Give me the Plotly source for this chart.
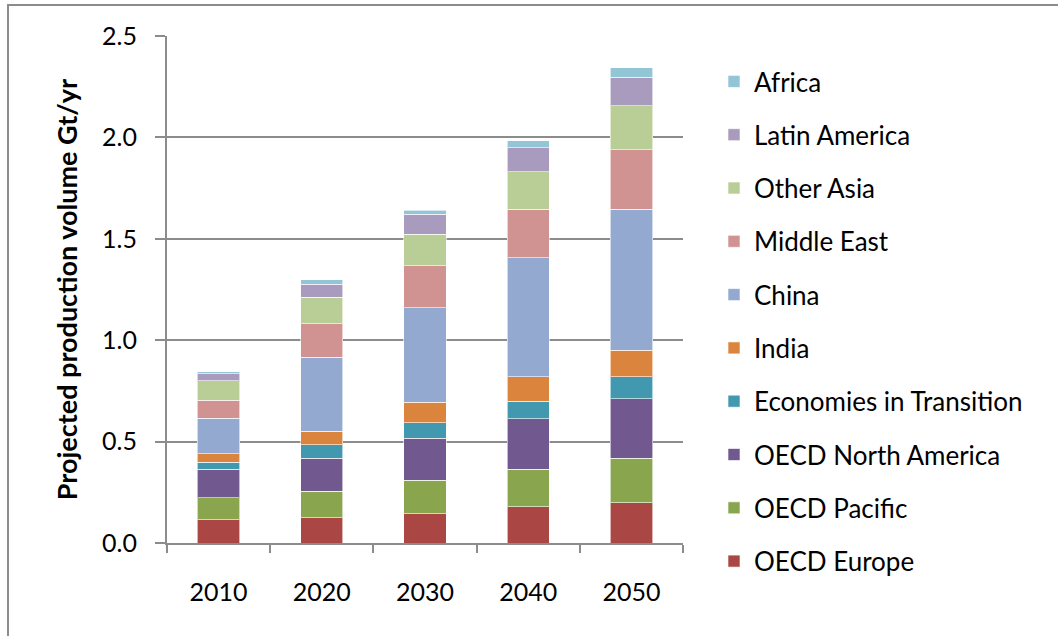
import plotly.graph_objects as go

years = ["2010", "2020", "2030", "2040", "2050"]

regions = ["OECD Europe", "OECD Pacific", "OECD North America", "Economies in Transition",
           "India", "China", "Middle East", "Other Asia", "Latin America", "Africa"]

oecd_europe = [0.114, 0.124, 0.145, 0.178, 0.198]
oecd_pacific = [0.109, 0.130, 0.165, 0.186, 0.219]
oecd_north_america = [0.140, 0.164, 0.207, 0.248, 0.295]
economies_in_transition = [0.035, 0.066, 0.077, 0.087, 0.107]
india = [0.043, 0.066, 0.099, 0.120, 0.131]
china = [0.175, 0.367, 0.467, 0.588, 0.695]
middle_east = [0.087, 0.165, 0.206, 0.238, 0.294]
other_asia = [0.097, 0.129, 0.157, 0.186, 0.218]
latin_america = [0.034, 0.066, 0.098, 0.118, 0.140]
africa = [0.010, 0.021, 0.021, 0.034, 0.046]

series = [oecd_europe, oecd_pacific, oecd_north_america, economies_in_transition,
          india, china, middle_east, other_asia, latin_america, africa]

colors = ["#AA4643", "#89A54E", "#71588F", "#4198AF", "#DB843D",
          "#93A9CF", "#D19392", "#B9CD96", "#A99BBD", "#92C5D6"]

FONT = "Lato"

fig = go.Figure()
n = len(regions)
for i, (name, vals, col) in enumerate(zip(regions, series, colors)):
    fig.add_trace(go.Bar(
        x=years, y=vals, name=name, legendgroup=name,
        legendrank=n - i,
        marker=dict(color=col, line=dict(color="rgba(255,255,255,0.6)", width=1)),
    ))

W, H = 1058, 636
L, R, T, B = 167, 683, 36, 543

fig.update_layout(
    width=W, height=H,
    barmode="stack",
    bargap=0.59,
    paper_bgcolor="white",
    plot_bgcolor="white",
    margin=dict(l=L, r=W - R, t=T, b=H - B, pad=0),
    font=dict(family=FONT, size=25, color="black"),
    showlegend=True,
    legend=dict(
        traceorder="grouped",
        x=(714 - L) / (R - L), xanchor="left",
        y=(B - 58) / (B - T), yanchor="top",
        font=dict(family=FONT, size=26, color="black"),
        tracegroupgap=16.5,
        itemwidth=30,
        maxheight=630,
        bgcolor="rgba(0,0,0,0)",
    ),
    xaxis=dict(
        type="category",
        showline=True, linecolor="#8c8c8c", linewidth=2,
        ticks="outside", tickson="boundaries", ticklen=8, tickcolor="#8c8c8c", tickwidth=2,
        showgrid=False,
        tickfont=dict(family=FONT, size=25),
        ticklabelstandoff=26,
    ),
    yaxis=dict(
        range=[0, 2.5],
        dtick=0.5, tickformat=".1f",
        showline=True, linecolor="#8c8c8c", linewidth=2,
        ticks="outside", ticklen=10, tickcolor="#8c8c8c", tickwidth=2,
        showgrid=True, gridcolor="#8c8c8c", gridwidth=2,
        zeroline=False,
        tickfont=dict(family=FONT, size=25),
        ticklabelstandoff=13,
        title=dict(text="<b>Projected production volume Gt/yr</b>",
                   font=dict(family=FONT, size=27), standoff=17),
    ),
    shapes=[dict(
        type="rect", xref="paper", yref="paper",
        x0=(8 - L) / (R - L), x1=(1070 - L) / (R - L),
        y0=(B - 650) / (B - T), y1=(B - 5) / (B - T),
        line=dict(color="#8c8c8c", width=2), fillcolor="rgba(0,0,0,0)",
        layer="below",
    )],
)

fig.write_html("out.html", config={"displayModeBar": False},
               post_script="document.body.style.margin='0px';")
